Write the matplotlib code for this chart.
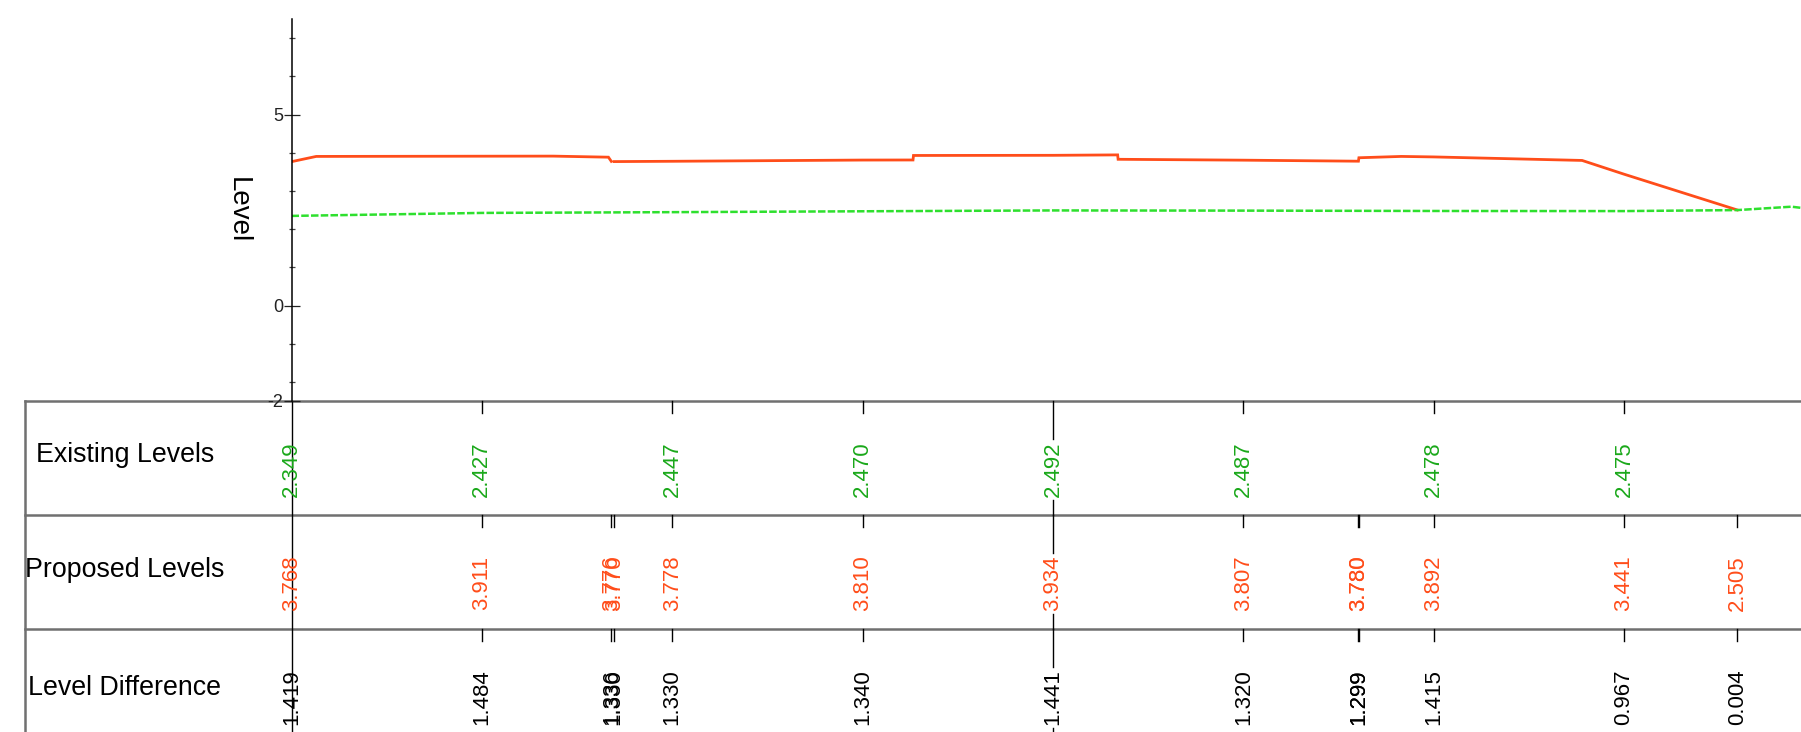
import matplotlib
matplotlib.use('Agg')
import matplotlib.pyplot as plt
import numpy as np
from matplotlib.lines import Line2D
from matplotlib.transforms import blended_transform_factory

plt.rcParams['font.family'] = ['Liberation Sans', 'DejaVu Sans']

W, H = 1801, 732
nan = np.nan

# ---------------- data ----------------
existing_ch = [0, 20, 40, 60, 80, 100, 120, 140]
existing_lv = [2.349, 2.427, 2.447, 2.470, 2.492, 2.487, 2.478, 2.475]

proposed_ch = [0, 20, 33.6, 33.9, 40, 60, 80, 100, 112.1, 112.15, 120, 140, 151.9]
proposed_lv = [3.768, 3.911, 3.776, 3.770, 3.778, 3.810, 3.934, 3.807, 3.780, 3.780, 3.892, 3.441, 2.505]
diff_lv = [1.419, 1.484, 1.336, 1.330, 1.330, 1.340, 1.441, 1.320, 1.299, 1.299, 1.415, 0.967, 0.004]

ground_ch = [0, 20, 40, 60, 80, 100, 120, 140, 151.9, 157.6, 158.6]
ground_lv = [2.349, 2.427, 2.447, 2.470, 2.492, 2.487, 2.478, 2.475, 2.501, 2.59, 2.56]

design_ch = [0, 2.6, 20, 27.5, 33.3, 33.6, nan, 33.9, 40, 60, 65.3, 65.35, 80, 86.8,
             86.85, 100, 112.1, 112.15, 116.6, 120, 135.6, 140, 151.9]
design_lv = [3.768, 3.905, 3.911, 3.913, 3.885, 3.776, nan, 3.770, 3.778, 3.810, 3.812,
             3.930, 3.934, 3.945, 3.830, 3.807, 3.780, 3.870, 3.905, 3.892, 3.800, 3.441, 2.505]

row_titles = ['Existing Levels', 'Proposed Levels', 'Level Difference']
ytick_vals = [-2.48, 0, 5]
ytick_labels = ['-2', '0', '5']
yminor_vals = [-2, -1, 1, 2, 3, 4, 6, 7]
mid_station = 80

RED = '#ff4d1a'
GREEN_LINE = '#2ee02e'
GREEN_TXT = '#1aa81a'
GRID_GRAY = '#707070'

fig = plt.figure(figsize=(W / 100, H / 100), dpi=100)

def fy(px):
    return 1 - px / H

ax_left, ax_right, ax_top, ax_bot = 291.5, 1801, 19, 400.5
ax = fig.add_axes([ax_left / W, fy(ax_bot), (ax_right - ax_left) / W, (ax_bot - ax_top) / H])
ax.set_zorder(3)
ax.patch.set_visible(False)
ax.plot(design_ch, design_lv, color=RED, lw=2.0, solid_joinstyle='miter')
ax.plot(ground_ch, ground_lv, color=GREEN_LINE, lw=1.8, linestyle=(0, (3.0, 0.9)))
ax.set_xlim(0, 158.6)
ax.set_ylim(-2.48, 7.5)
for s in ['top', 'right', 'bottom']:
    ax.spines[s].set_visible(False)
ax.spines['left'].set_linewidth(1.1)
ax.set_xticks([])
ax.set_yticks(ytick_vals)
ax.set_yticklabels(ytick_labels)
ax.set_yticks(yminor_vals, minor=True)
ax.tick_params(axis='y', which='major', direction='inout', length=11, width=0.9,
               labelsize=13, pad=0.5, colors='#222222')
ax.tick_params(axis='y', which='minor', direction='inout', length=5, width=0.9, colors='#444444')
ax.text(-0.0354, 0.5, 'Level', transform=ax.transAxes, rotation=270, ha='center',
        va='center', fontsize=20)

# ---------------- table ----------------
row_tops = [400.5, 514.5, 628.5]
row_bots = [514.5, 628.5, 732]
tr = blended_transform_factory(ax.transData, fig.transFigure)

for y in row_tops:
    fig.add_artist(Line2D([25 / W, 1], [fy(y), fy(y)], color=GRID_GRAY, lw=1.8, zorder=1))
fig.add_artist(Line2D([25 / W, 25 / W], [fy(400.5), 0], color=GRID_GRAY, lw=1.8, zorder=1))
# axis line continues through table
fig.add_artist(Line2D([0, 0], [fy(400.5), 0], transform=tr, color='black', lw=1.0, zorder=1.5))

title_y = [455, 570, 688]
for t, y in zip(row_titles, title_y):
    fig.text(125 / W, fy(y), t, ha='center', va='center', fontsize=19.3)

rows = [
    (existing_ch, ['%.3f' % v for v in existing_lv], GREEN_TXT),
    (proposed_ch, ['%.3f' % v for v in proposed_lv], RED),
    (proposed_ch, ['%.3f' % v for v in diff_lv], 'black'),
]
label_off = 41
label_len = 56
for (chs, labs, col), rt, rb in zip(rows, row_tops, row_bots):
    for c, lab in zip(chs, labs):
        if c == mid_station:
            ax.plot([c, c], [fy(rt), fy(rt + label_off - 3)], transform=tr, color='black',
                    lw=1.0, clip_on=False)
            ax.plot([c, c], [fy(rt + label_off + label_len + 2), fy(rb)], transform=tr,
                    color='black', lw=1.0, clip_on=False)
        elif c != 0:
            ax.plot([c, c], [fy(rt), fy(rt + 12)], transform=tr, color='black', lw=1.0,
                    clip_on=False)
        ax.text(c, fy(rt + label_off), lab, transform=tr, rotation=90, ha='center', va='top',
                fontsize=16, color=col, clip_on=False)

fig.savefig('out.png', dpi=100)
